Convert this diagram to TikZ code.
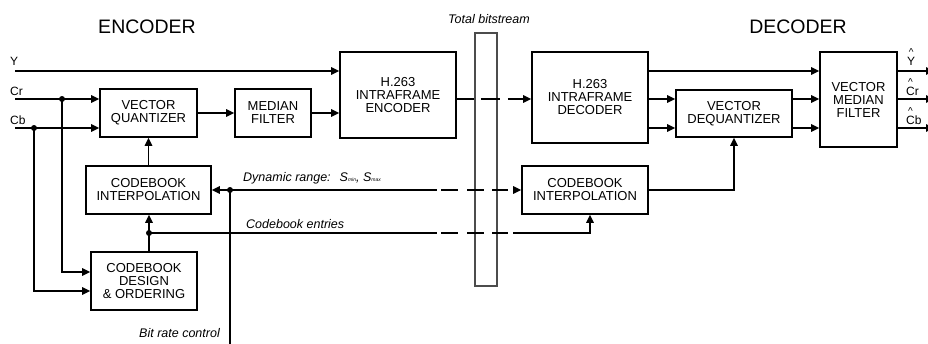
\documentclass[tikz,border=0pt]{standalone}
\usepackage{fontspec}
\setmainfont{Liberation Sans}
\usetikzlibrary{arrows.meta}

% small letter with a circumflex set well above it
\newcommand\hatop[1]{\ooalign{#1\cr\hidewidth\raisebox{9.5pt}{\fontsize{10}{10}\selectfont\textasciicircum}\hidewidth\cr}}
% tiny subscript sitting near the baseline
\newcommand\tinysub[1]{\raisebox{-0.8pt}{\fontsize{5}{5}\selectfont #1}}

\begin{document}
\begin{tikzpicture}[x=1pt,y=-1pt,
  blk/.style={draw, line width=1.6pt, align=center, inner sep=0pt,
    font=\fontsize{13}{13}\selectfont},
  lbl/.style={inner sep=0pt, font=\fontsize{12.5}{13}\selectfont\itshape},
  sig/.style={inner sep=0pt, font=\fontsize{12}{12}\selectfont},
  title/.style={inner sep=0pt, font=\fontsize{19.5}{20}\selectfont},
  wire/.style={line width=1.5pt},
  arr/.style={wire, -{Triangle[length=8pt,width=7.5pt]}},
  jdot/.style={fill=black},
  gapped/.style={dash pattern=on #1 off 4pt on 17pt off 9pt on 17pt off 8pt on 16pt off 5pt on 2000pt off 1pt}]
\useasboundingbox (0,0) rectangle (928,343);

% channel
\node[draw=black!70, line width=1.1pt, minimum width=22pt, minimum height=253pt, inner sep=0pt] (bs) at (486,159.5) {};

% encoder blocks
\node[blk, minimum width=97pt, minimum height=48pt] (vq) at (148.5,113) {VECTOR\\QUANTIZER};
\node[blk, minimum width=76pt, minimum height=48pt] (mf) at (273,113) {MEDIAN\\FILTER};
\node[blk, minimum width=116pt, minimum height=86pt] (enc) at (398,95) {H.263\\INTRAFRAME\\ENCODER};
\node[blk, minimum width=125pt, minimum height=48pt] (ci) at (148.5,190) {CODEBOOK\\INTERPOLATION};
\node[blk, minimum width=106pt, minimum height=58pt] (cd) at (144,281) {CODEBOOK\\DESIGN\\\& ORDERING};

% decoder blocks
\node[blk, minimum width=116pt, minimum height=91pt] (dec) at (590,97.5) {H.263\\INTRAFRAME\\DECODER};
\node[blk, minimum width=116pt, minimum height=47pt] (vd) at (734,113.5) {VECTOR\\DEQUANTIZER};
\node[blk, minimum width=77pt, minimum height=95pt] (vmf) at (858.5,99.5) {VECTOR\\MEDIAN\\FILTER};
\node[blk, minimum width=126pt, minimum height=48pt] (dci) at (585,190) {CODEBOOK\\INTERPOLATION};

% signal rows and free ends
\coordinate (rY) at (0,71);
\coordinate (rCr) at (0,99);
\coordinate (rCb) at (0,128);
\coordinate (yin) at (15,71);
\coordinate (crin) at (15,99);
\coordinate (cbin) at (15,128);
\coordinate (crj) at (62,99);
\coordinate (cbj) at (34,128);
\coordinate (crd) at (0,272);
\coordinate (cbd) at (0,291);
\coordinate (ce) at (149,233);
\coordinate (brj) at (230,190);
\coordinate (brin) at (230,346);
\coordinate (oY) at (934,71);
\coordinate (oCr) at (934,99);
\coordinate (oCb) at (934,128);

% encoder connections
\draw[arr] (yin) -- (yin -| enc.west);
\draw[arr] (crin) -- (crin -| vq.west);
\draw[arr] (cbin) -- (cbin -| vq.west);
\draw[arr] (crj) |- (crd -| cd.west);
\draw[arr] (cbj) |- (cbd -| cd.west);
\draw[arr] (vq.east) -- (mf.west);
\draw[arr] (mf.east) -- (mf.east -| enc.west);
\draw[arr] (ci.north) -- (vq.south);
\draw[arr] (cd.north -| ce) -- (ce |- ci.south);
\draw[wire] (brin) -- (brj);
\draw[arr] (brj) -- (ci.east);

% across the channel
\draw[arr, dash pattern=on 17pt off 7pt on 19pt off 8pt on 2000pt off 1pt] (enc.east |- rCr) -- (dec.west |- rCr);
\draw[arr, gapped=207pt] (brj) -- (dci.west);
\draw[arr, gapped=288pt] (ce) -| ([xshift=5pt]dci.south);

% decoder connections
\draw[arr] (dec.east |- rY) -- (vmf.west |- rY);
\draw[arr] (dec.east |- rCr) -- (vd.west |- rCr);
\draw[arr] (dec.east |- rCb) -- (vd.west |- rCb);
\draw[arr] (vd.east |- rCr) -- (vmf.west |- rCr);
\draw[arr] (vd.east |- rCb) -- (vmf.west |- rCb);
\draw[arr] (dci.east) -| (vd.south);
\draw[arr] (vmf.east |- rY) -- (oY);
\draw[arr] (vmf.east |- rCr) -- (oCr);
\draw[arr] (vmf.east |- rCb) -- (oCb);

% junctions
\foreach \j in {crj,cbj,ce,brj} \fill[jdot] (\j) circle (3pt);

% labels
\node[title, anchor=base] (enct) at (147,33) {ENCODER};
\node[title, anchor=base] (dect) at (798,33) {DECODER};
\node[lbl, anchor=base] (tb) at (489,23) {Total bitstream};
\node[lbl, anchor=base west] (dyn) at (243,181) {Dynamic range:\hspace{9pt}S\tinysub{min}, S\tinysub{max}};
\node[lbl, anchor=base west] (cbe) at (246,228) {Codebook entries};
\node[lbl, anchor=base east] (brc) at (220,337) {Bit rate control};
\node[sig, anchor=base west] (ly) at (10,65) {Y};
\node[sig, anchor=base west] (lcr) at (10,95) {Cr};
\node[sig, anchor=base west] (lcb) at (10,124) {Cb};
\node[sig, anchor=base west] (oy) at (907,65) {\hatop{Y}};
\node[sig, anchor=base west] (ocr) at (906,95) {\hatop{C}r};
\node[sig, anchor=base west] (ocb) at (906,124) {\hatop{C}b};
\end{tikzpicture}
\end{document}
